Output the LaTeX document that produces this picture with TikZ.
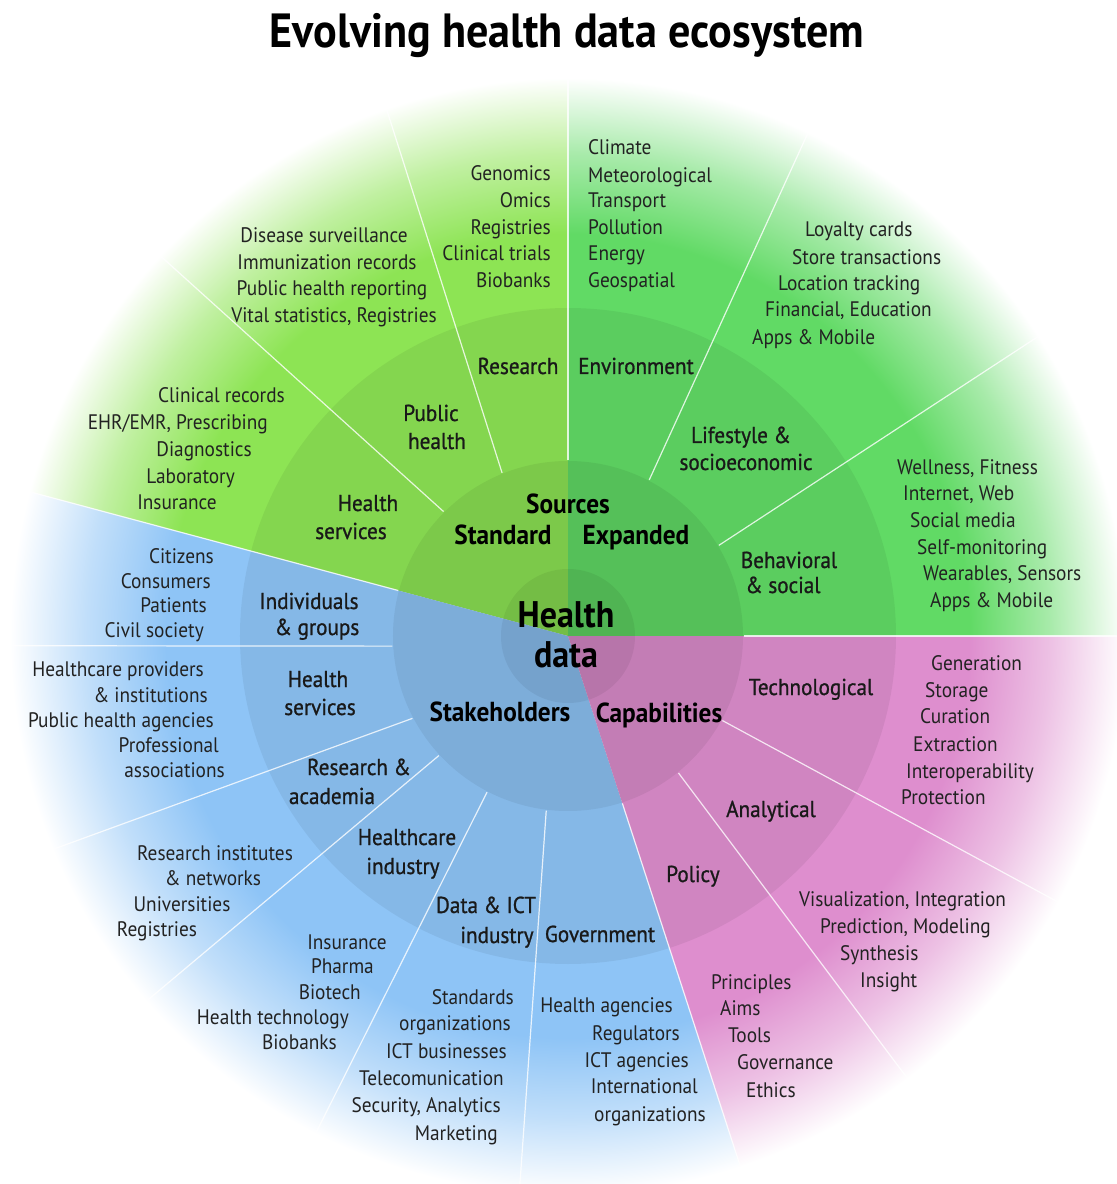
\documentclass[tikz,border=0pt]{standalone}
\usepackage{fontspec}
\setmainfont{PT Sans}[FakeStretch=0.92]
\newfontfamily\facetfont{PT Sans}[FakeStretch=0.92, FakeBold=0.9]

\definecolor{stdgreen}{RGB}{141,228,84}
\definecolor{expgreen}{RGB}{97,218,101}
\definecolor{stakeblue}{RGB}{142,196,246}
\definecolor{cappink}{RGB}{222,142,206}
\definecolor{ink}{RGB}{34,34,34}

% each sector fades to white towards the rim (the path box is the inner 50bp square)
\pgfdeclareradialshading{stdrim}{\pgfpointorigin}{color(0bp)=(stdgreen); color(18bp)=(stdgreen); color(21.6bp)=(stdgreen!55); color(25bp)=(white); color(50bp)=(white)}
\pgfdeclareradialshading{exprim}{\pgfpointorigin}{color(0bp)=(expgreen); color(18bp)=(expgreen); color(21.6bp)=(expgreen!55); color(25bp)=(white); color(50bp)=(white)}
\pgfdeclareradialshading{stakerim}{\pgfpointorigin}{color(0bp)=(stakeblue); color(18bp)=(stakeblue); color(21.6bp)=(stakeblue!55); color(25bp)=(white); color(50bp)=(white)}
\pgfdeclareradialshading{caprim}{\pgfpointorigin}{color(0bp)=(cappink); color(18bp)=(cappink); color(21.6bp)=(cappink!55); color(25bp)=(white); color(50bp)=(white)}

\tikzset{
  ringshade/.style={fill=black, opacity=0.06},
  divider/.style={draw=white, line width=1.2pt, opacity=0.8},
  item/.style={font=\fontsize{21}{25}\selectfont, text=ink, inner sep=0pt, text height=14.7pt, text depth=0pt},
  facet/.style={item, font=\facetfont\fontsize{23}{27}\selectfont, text=black!90, text height=16pt},
  hub/.style={item, font=\bfseries\fontsize{27.5}{32}\selectfont, text=black, text height=19pt},
  core/.style={item, font=\bfseries\fontsize{37}{42}\selectfont, text=black, text height=26pt},
  heading/.style={item, font=\bfseries\fontsize{48}{54}\selectfont, text=black, text height=33.6pt}
}

\begin{document}
\begin{tikzpicture}[x=1pt, y=1pt]
\useasboundingbox (-568,-548) rectangle (549,636);

% the four sectors
\foreach \from/\to/\rim in {0/90/exprim, 90/165/stdrim, 165/288/stakerim, 288/360/caprim} {
  \begin{scope}
    \clip (0,0) -- (\from:560) arc[start angle=\from, end angle=\to, radius=560pt] -- cycle;
    \shade[shading=\rim] (0,0) circle (558pt);
  \end{scope}
}

% rings get darker towards the middle
\fill[ringshade] (0,0) circle (328pt);
\fill[ringshade] (0,0) circle (175pt);
\fill[ringshade] (0,0) circle (67pt);

% white spokes between the categories
\foreach \a/\b in {0/0, 31/32.5, 62.5/64.5, 90/90, 112/109, 135/137, 165/165,
    183.3/181, 207.9/202.5, 222.8/220.9, 242.6/243.1, 262.9/265, 288/288,
    308.9/307.5, 331.3/331.5}
  \draw[divider] (\a:176) -- (\b:558);

% labels, placed in page coordinates
\begin{scope}[shift={(-568,636)}, yscale=-1]
  \node[heading] (title) at (567,31) {Evolving health data ecosystem};

  \node[core] (health) at (566,614) {Health};
  \node[core] (data) at (566,654) {data};

  \node[hub] (sources) at (568,504) {Sources};
  \node[hub] (standard) at (503,535) {Standard};
  \node[hub] (expanded) at (636,535) {Expanded};
  \node[hub] (stakeholders) at (500,712) {Stakeholders};
  \node[hub] (capabilities) at (659,713) {Capabilities};

  % middle ring
  \foreach \x/\y/\t [count=\i] in {518/366/Research, 636/366/Environment,
      431/413/Public, 437/441/health, 368/503/Health, 351/531/services,
      741/435/Lifestyle \&, 746/462/socioeconomic, 789/560/Behavioral, 783/585/\& social,
      309/601/Individuals, 317/627/\& groups, 318/679/Health, 320/707/services,
      359/767/Research \&, 332/796/academia, 407/837/Healthcare, 403/866/industry,
      486/905/Data \& ICT, 497/935/industry, 600/934/Government,
      811/687/Technological, 771/809/Analytical, 693/874/Policy}
    \node[facet] (facet\i) at (\x,\y) {\t};

  % outer ring, lists set flush right
  \foreach \x/\y/\t [count=\i] in {551/173/Genomics, 551/200/Omics, 551/227/Registries,
      551/253/Clinical trials, 551/280/Biobanks,
      285/395/Clinical records, 268/422/{EHR/EMR, Prescribing}, 252/449/Diagnostics,
      235/476/Laboratory, 217/502/Insurance,
      214/556/Citizens, 211/581/Consumers, 207/605/Patients, 204/630/Civil society,
      204/669/Healthcare providers, 208/695/\& institutions, 214/720/Public health agencies,
      219/745/Professional, 225/770/associations,
      387/942/Insurance, 374/966/Pharma, 361/992/Biotech, 349/1017/Health technology,
      337/1042/Biobanks,
      514/997/Standards, 511/1023/organizations, 507/1051/ICT businesses,
      504/1078/Telecomunication, 501/1105/{Security, Analytics}, 498/1133/Marketing,
      673/1005/Health agencies, 680/1033/Regulators, 689/1060/ICT agencies,
      698/1086/International, 706/1114/organizations}
    \node[item, anchor=east] (right\i) at (\x,\y) {\t};

  % outer ring, lists set flush left
  \foreach \x/\y/\t [count=\i] in {588/147/Climate, 588/175/Meteorological, 588/200/Transport,
      588/227/Pollution, 588/253/Energy, 588/280/Geospatial,
      805/229/Loyalty cards, 792/257/Store transactions, 778/283/Location tracking,
      765/309/{Financial, Education}, 752/337/Apps \& Mobile,
      897/467/{Wellness, Fitness}, 903/493/{Internet, Web}, 910/520/Social media,
      917/547/Self-monitoring, 923/573/{Wearables, Sensors}, 930/600/Apps \& Mobile,
      931/663/Generation, 925/690/Storage, 920/716/Curation, 913/744/Extraction,
      906/771/Interoperability, 901/797/Protection,
      799/899/{Visualization, Integration}, 820/926/{Prediction, Modeling},
      840/953/Synthesis, 860/980/Insight,
      711/982/Principles, 720/1008/Aims, 728/1035/Tools, 737/1062/Governance,
      746/1090/Ethics}
    \node[item, anchor=west] (left\i) at (\x,\y) {\t};

  % outer ring, centred lines
  \foreach \x/\y/\t [count=\i] in {324/235/Disease surveillance, 327/262/Immunization records,
      332/288/Public health reporting, 334/315/{Vital statistics, Registries},
      215/853/Research institutes, 213/878/\& networks, 182/904/Universities,
      157/929/Registries}
    \node[item] (mid\i) at (\x,\y) {\t};
\end{scope}
\end{tikzpicture}
\end{document}
